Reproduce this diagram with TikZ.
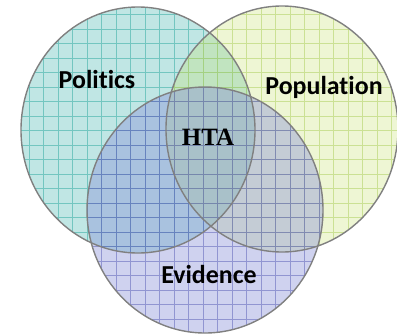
\documentclass[tikz,border=0pt]{standalone}
\usepackage{fontspec}
\setsansfont[Ligatures=NoCommon]{Carlito}
\newfontfamily\htafont{Liberation Serif}
\definecolor{polfill}{HTML}{C0E6E4}
\definecolor{polgrid}{HTML}{4AB5AE}
\definecolor{popfill}{HTML}{C6E170}
\definecolor{popgrid}{HTML}{B4D46A}
\definecolor{evifill}{HTML}{878ED8}
\definecolor{evigrid}{HTML}{5559B4}
\begin{document}
\begin{tikzpicture}[x=1bp,y=-1bp,
  ring/.style={draw=black!50,line width=1.4bp},
  lbl/.style={font=\sffamily\bfseries\fontsize{26}{26}\selectfont,inner sep=0pt}]
\useasboundingbox (0,0) rectangle (397,336);
% the three sets, see-through
\foreach \cx/\cy/\rx/\fc/\gc/\op/\gop in {138/130/117/polfill/polgrid/1/0.65,282/129/116/popfill/popgrid/0.3/0.6,205/210/118/evifill/evigrid/0.4/0.5}
{
  \begin{scope}
    \clip (\cx,\cy) ellipse [x radius=\rx bp,y radius=123bp];
    \fill[\fc,opacity=\op] (0,0) rectangle (397,336);
    \draw[\gc,opacity=\gop,line width=0.4bp,step=14.5bp] (0,0) grid (397,336);
  \end{scope}
}
\draw[ring] (138,130) ellipse [x radius=117bp,y radius=123bp];
\draw[ring] (282,129) ellipse [x radius=116bp,y radius=123bp];
\draw[ring] (205,210) ellipse [x radius=118bp,y radius=123bp];
\node[lbl] (politics) at (97,80) {Politics};
\node[lbl] (population) at (324,87) {Population};
\node[lbl] (evidence) at (209,275) {Evidence};
\node[font=\htafont\bfseries\fontsize{25}{25}\selectfont,inner sep=0pt] (hta) at (208,137) {HTA};
\end{tikzpicture}
\end{document}
